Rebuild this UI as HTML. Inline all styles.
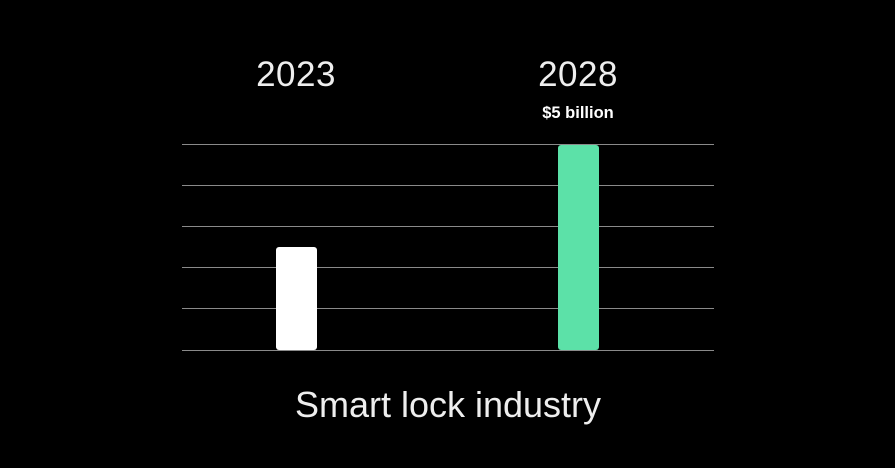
<!DOCTYPE html>
<html><head><style>
html,body{margin:0;padding:0;background:#000;}
.c{position:relative;width:895px;height:468px;background:#000;overflow:hidden;font-family:"Liberation Sans",sans-serif;color:#fff;}
.g{position:absolute;left:182px;width:532px;height:1px;background:#8a8a8a;}
.t{position:absolute;text-align:center;white-space:nowrap;}
</style></head><body><div class="c">
<div class="g" style="top:144px"></div>
<div class="g" style="top:185px"></div>
<div class="g" style="top:226px"></div>
<div class="g" style="top:267px"></div>
<div class="g" style="top:308px"></div>
<div class="g" style="top:350px"></div>
<div style="position:absolute;left:276px;top:247px;width:41px;height:103px;background:#fff;border-radius:3px"></div>
<div style="position:absolute;left:558px;top:145px;width:41px;height:205px;background:#5ce1a8;border-radius:3px"></div>
<div class="t" style="left:196px;width:200px;top:55px;font-size:35px;color:#eee;letter-spacing:0.5px">2023</div>
<div class="t" style="left:478px;width:200px;top:55px;font-size:35px;color:#eee;letter-spacing:0.5px">2028</div>
<div class="t" style="left:478px;width:200px;top:104px;font-size:16.5px;font-weight:bold">$5 billion</div>
<div class="t" style="left:248px;width:400px;top:384px;font-size:36px;color:#eee">Smart lock industry</div>
</div></body></html>
